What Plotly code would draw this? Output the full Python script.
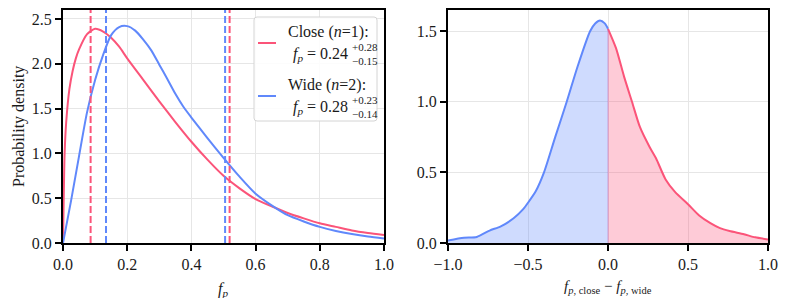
import plotly.graph_objects as go

# ---------------- data ----------------
f_close = [0, 0.0025, 0.005, 0.01, 0.02, 0.03, 0.04, 0.05, 0.075, 0.10, 0.125, 0.15, 0.175, 0.20,
           0.25, 0.30, 0.35, 0.40, 0.45, 0.50, 0.55, 0.60, 0.65, 0.70, 0.75, 0.80, 0.85, 0.90, 0.95, 1.0]
pdf_close = [0, 0.55, 1.0, 1.35, 1.72, 1.92, 2.06, 2.16, 2.33, 2.39, 2.36, 2.29, 2.19, 2.06,
             1.82, 1.58, 1.35, 1.13, 0.93, 0.75, 0.61, 0.49, 0.41, 0.335, 0.275, 0.22, 0.18, 0.14, 0.112, 0.09]

f_wide = [0, 0.025, 0.05, 0.075, 0.10, 0.125, 0.15, 0.175, 0.20, 0.225, 0.25, 0.275, 0.30, 0.325,
          0.35, 0.375, 0.40, 0.45, 0.50, 0.55, 0.60, 0.65, 0.70, 0.75, 0.80, 0.85, 0.90, 0.95, 1.0]
pdf_wide = [0, 0.47, 0.97, 1.46, 1.82, 2.10, 2.32, 2.41, 2.42, 2.37, 2.27, 2.15, 1.99, 1.83,
            1.665, 1.52, 1.40, 1.17, 0.95, 0.74, 0.55, 0.42, 0.31, 0.24, 0.18, 0.135, 0.10, 0.072, 0.05]

close_interval = [0.086, 0.519]
wide_interval = [0.134, 0.505]

diff_x = [-1.0, -0.90, -0.82, -0.74, -0.67, -0.59, -0.53, -0.50, -0.45, -0.40, -0.33, -0.258,
          -0.19, -0.112, -0.08, -0.05, -0.02, 0.0, 0.05, 0.10, 0.15, 0.20, 0.26, 0.30, 0.36,
          0.42, 0.50, 0.57, 0.64, 0.70, 0.76, 0.85, 0.92, 1.0]
diff_pdf = [0.018, 0.037, 0.043, 0.088, 0.118, 0.175, 0.24, 0.285, 0.37, 0.50, 0.75, 1.0,
            1.25, 1.50, 1.555, 1.576, 1.555, 1.517, 1.38, 1.18, 1.0, 0.82, 0.68, 0.60, 0.45,
            0.36, 0.275, 0.195, 0.14, 0.105, 0.085, 0.062, 0.04, 0.025]

left_xticks = [0.0, 0.2, 0.4, 0.6, 0.8, 1.0]
left_yticks = [0.0, 0.5, 1.0, 1.5, 2.0, 2.5]
right_xticks = [-1.0, -0.5, 0.0, 0.5, 1.0]
right_yticks = [0.0, 0.5, 1.0, 1.5]

close_label = ["Close (<i>n</i>=1):", "0.24", "+0.28", "\u22120.15"]
wide_label = ["Wide (<i>n</i>=2):", "0.28", "+0.23", "\u22120.14"]

# ---------------- style ----------------
RED = "#fb5479"
BLUE = "#6088fb"
RED_FILL = "rgba(251,84,121,0.30)"
BLUE_FILL = "rgba(96,136,251,0.30)"
FONT = "Liberation Serif"
TXT = "#1a1a1a"
FS = 16

# page body has an 8px margin; figure is sized so that plot areas land where the reference has them
OFF = 8
W, H = 788 - 2 * OFF, 306 - 2 * OFF
L_LEFT, L_RIGHT, R_LEFT, R_RIGHT, TOP, BOT = 63, 384, 448, 768, 10, 243
ML = L_LEFT - OFF
MR = W - (R_RIGHT - OFF)
MT = TOP - OFF
MB = H - (BOT - OFF)
PW, PH = W - ML - MR, H - MT - MB

fig = go.Figure()

fig.add_trace(go.Scatter(x=f_close, y=pdf_close, mode="lines", line=dict(color=RED, width=2, shape="spline", smoothing=0.7),
                         xaxis="x", yaxis="y", showlegend=False, hoverinfo="skip"))
fig.add_trace(go.Scatter(x=f_wide, y=pdf_wide, mode="lines", line=dict(color=BLUE, width=2, shape="spline", smoothing=0.7),
                         xaxis="x", yaxis="y", showlegend=False, hoverinfo="skip"))

for v in close_interval:
    fig.add_shape(type="line", x0=v, x1=v, y0=0, y1=1, xref="x", yref="y domain",
                  line=dict(color=RED, width=2, dash="7px,3px"))
for v in wide_interval:
    fig.add_shape(type="line", x0=v, x1=v, y0=0, y1=1, xref="x", yref="y domain",
                  line=dict(color=BLUE, width=2, dash="7px,3px"))

neg_x = [x for x in diff_x if x <= 0]
neg_y = [y for x, y in zip(diff_x, diff_pdf) if x <= 0]
pos_x = [x for x in diff_x if x >= 0]
pos_y = [y for x, y in zip(diff_x, diff_pdf) if x >= 0]

fig.add_trace(go.Scatter(x=neg_x, y=neg_y, mode="lines", fill="tozeroy", fillcolor=BLUE_FILL,
                         line=dict(color=BLUE, width=2, shape="spline", smoothing=0.7),
                         xaxis="x2", yaxis="y2", showlegend=False, hoverinfo="skip"))
fig.add_trace(go.Scatter(x=pos_x, y=pos_y, mode="lines", fill="tozeroy", fillcolor=RED_FILL,
                         line=dict(color=RED, width=2, shape="spline", smoothing=0.7),
                         xaxis="x2", yaxis="y2", showlegend=False, hoverinfo="skip"))
zero_val = diff_pdf[diff_x.index(0.0)]
fig.add_trace(go.Scatter(x=[0.0, 0.0], y=[0, zero_val], mode="lines",
                         line=dict(color="rgba(190,110,190,0.55)", width=1),
                         xaxis="x2", yaxis="y2", showlegend=False, hoverinfo="skip"))

axis_common = dict(showline=True, linecolor="black", linewidth=2, mirror=True,
                   ticks="outside", ticklen=6, tickwidth=1.5, tickcolor="black",
                   showgrid=True, gridcolor="#e6e6e6", gridwidth=1, zeroline=False,
                   tickfont=dict(family=FONT, size=FS, color=TXT), automargin=False)

fig.update_layout(
    width=W, height=H,
    margin=dict(l=ML, r=MR, t=MT, b=MB, pad=0),
    font=dict(family=FONT, size=FS, color=TXT),
    paper_bgcolor="white", plot_bgcolor="white",
    xaxis=dict(domain=[0, (L_RIGHT - L_LEFT) / PW], range=[0, 1], tickvals=left_xticks, tickformat=".1f", anchor="y", **axis_common),
    yaxis=dict(domain=[0, 1], range=[0, 2.6], tickvals=left_yticks, tickformat=".1f", anchor="x", **axis_common),
    xaxis2=dict(domain=[(R_LEFT - L_LEFT) / PW, 1], range=[-1, 1], tickvals=right_xticks, tickformat=".1f", anchor="y2", **axis_common),
    yaxis2=dict(domain=[0, 1], range=[0, 1.65], tickvals=right_yticks, tickformat=".1f", anchor="x2", **axis_common),
    showlegend=False,
)

def pxp(px):
    return (px - L_LEFT) / PW

def pyp(py):
    return (BOT - py) / PH

ann = []
ann.append(dict(text="Probability density", x=pxp(18.5), y=pyp(126.5), xref="paper", yref="paper",
                xanchor="center", yanchor="middle",
                textangle=-90, showarrow=False, font=dict(family=FONT, size=FS, color=TXT)))
ann.append(dict(text="<i>f<sub>p</sub></i>", x=pxp(223), y=pyp(289), xref="paper", yref="paper",
                xanchor="center", yanchor="middle",
                showarrow=False, font=dict(family=FONT, size=FS, color=TXT)))
ann.append(dict(text="<i>f</i><sub><i>p</i>, close</sub> \u2212 <i>f</i><sub><i>p</i>, wide</sub>",
                x=pxp(608), y=pyp(287), xref="paper", yref="paper",
                xanchor="center", yanchor="middle",
                showarrow=False, font=dict(family=FONT, size=FS - 1, color=TXT)))

def lx(px):
    return (px - L_LEFT) / (L_RIGHT - L_LEFT)

def ly(py):
    return (BOT - py) / (BOT - TOP) * 2.6

bx0, bx1, by0, by1 = 254, 377, 17, 121
r = 3
path = (f"M {lx(bx0 + r)},{ly(by0)} L {lx(bx1 - r)},{ly(by0)} Q {lx(bx1)},{ly(by0)} {lx(bx1)},{ly(by0 + r)} "
        f"L {lx(bx1)},{ly(by1 - r)} Q {lx(bx1)},{ly(by1)} {lx(bx1 - r)},{ly(by1)} "
        f"L {lx(bx0 + r)},{ly(by1)} Q {lx(bx0)},{ly(by1)} {lx(bx0)},{ly(by1 - r)} "
        f"L {lx(bx0)},{ly(by0 + r)} Q {lx(bx0)},{ly(by0)} {lx(bx0 + r)},{ly(by0)} Z")
fig.add_shape(type="path", path=path, xref="x", yref="y", fillcolor="rgba(255,255,255,0.85)",
              line=dict(color="#d4d4d4", width=1), layer="above")

for label, color, yc in [(close_label, RED, 0), (wide_label, BLUE, 53)]:
    fig.add_shape(type="line", x0=lx(258), x1=lx(276), y0=ly(43 + yc), y1=ly(43 + yc), xref="x", yref="y",
                  line=dict(color=color, width=2), layer="above")
    ann.append(dict(text=label[0], x=lx(286), y=ly(32 + yc), xref="x", yref="y", xanchor="left", yanchor="middle",
                    showarrow=False, font=dict(family=FONT, size=FS, color=TXT)))
    ann.append(dict(text="<i>f<sub>p</sub></i> = " + label[1], x=lx(349.5), y=ly(54 + yc), xref="x", yref="y",
                    xanchor="right", yanchor="middle", showarrow=False, font=dict(family=FONT, size=FS, color=TXT)))
    ann.append(dict(text=label[2], x=lx(349.5), y=ly(47 + yc), xref="x", yref="y", xanchor="left", yanchor="middle",
                    showarrow=False, font=dict(family=FONT, size=11, color=TXT)))
    ann.append(dict(text=label[3], x=lx(349.5), y=ly(61 + yc), xref="x", yref="y", xanchor="left", yanchor="middle",
                    showarrow=False, font=dict(family=FONT, size=11, color=TXT)))

fig.update_layout(annotations=ann)
fig.write_html("out.html")
